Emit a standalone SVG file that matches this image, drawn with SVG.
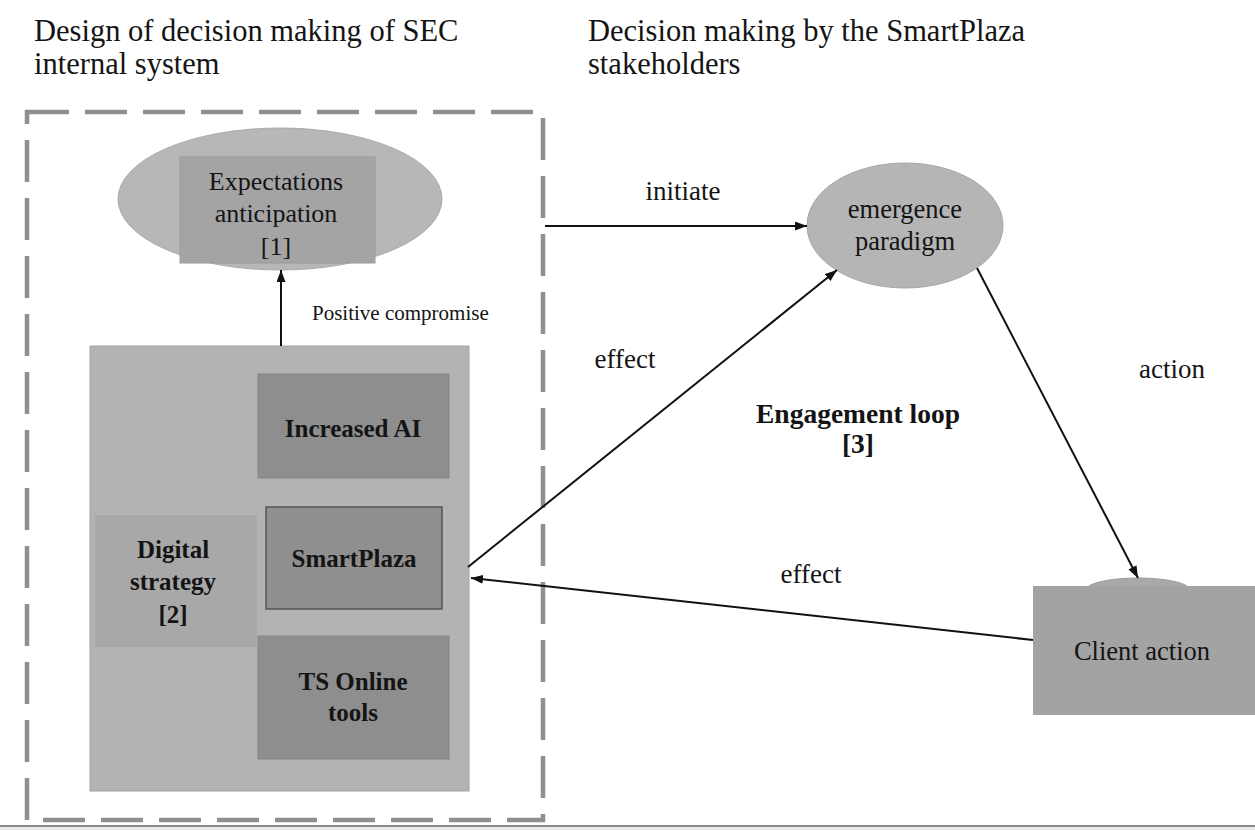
<svg xmlns="http://www.w3.org/2000/svg" width="1255" height="830" viewBox="0 0 1255 830">
<defs>
<marker id="ah" markerWidth="13" markerHeight="10" refX="12" refY="4.5" orient="auto" markerUnits="userSpaceOnUse">
<path d="M0,0 L12,4.5 L0,9 z" fill="#111"/>
</marker>
<style>
text{font-family:"Liberation Serif","Times New Roman",serif;fill:#141414}
.title{font-size:30.5px}
.lbl{font-size:27px}
.nt{font-size:26px;text-anchor:middle}
.bt{font-size:25px;font-weight:bold;text-anchor:middle}
.edge{stroke:#111;stroke-width:2;fill:none;marker-end:url(#ah)}
.dark{fill:#8e8e8e;stroke:#858585;stroke-width:1}
</style>
</defs>
<rect width="1255" height="830" fill="#fff"/>
<g id="titles">
<text class="title" x="34" y="41">Design of decision making of SEC</text>
<text class="title" x="34" y="74">internal system</text>
<text class="title" x="588" y="41">Decision making by the SmartPlaza</text>
<text class="title" x="588" y="74">stakeholders</text>
</g>
<g id="boundary">
<rect x="27" y="112" width="516" height="708" fill="none" stroke="#8f8f8f" stroke-width="4.5" stroke-dasharray="42 16"/>
<rect x="0" y="827" width="1255" height="3" fill="#ececec"/>
<line x1="0" y1="826" x2="1255" y2="826" stroke="#8a8a8a" stroke-width="2"/>
</g>
<g id="expectations">
<ellipse cx="280" cy="199" rx="162" ry="71" fill="#b7b7b7" stroke="#aaaaaa" stroke-width="1"/>
<rect x="180" y="157" width="195" height="106" fill="#a4a4a4" stroke="#9c9c9c" stroke-width="1"/>
<text class="nt" x="276" y="190">Expectations</text>
<text class="nt" x="276" y="222">anticipation</text>
<text class="nt" x="276" y="255">[1]</text>
</g>
<g id="digital-container">
<rect x="90" y="346" width="379" height="445" fill="#b3b3b3" stroke="#a3a3a3" stroke-width="1"/>
</g>
<g id="increased-ai">
<rect class="dark" x="258" y="374" width="191" height="104"/>
<text class="bt" x="353" y="437">Increased AI</text>
</g>
<g id="digital-strategy">
<rect x="96" y="516" width="160" height="130" fill="#a8a8a8" stroke="#a2a2a2" stroke-width="1"/>
<text class="bt" x="173" y="558">Digital</text>
<text class="bt" x="173" y="590">strategy</text>
<text class="bt" x="173" y="623">[2]</text>
</g>
<g id="smartplaza">
<rect x="266" y="507" width="176" height="102" fill="#8f8f8f" stroke="#555" stroke-width="1.5"/>
<text class="bt" x="354" y="567">SmartPlaza</text>
</g>
<g id="ts-online">
<rect class="dark" x="258" y="636" width="191" height="123"/>
<text class="bt" x="353" y="690">TS Online</text>
<text class="bt" x="353" y="721">tools</text>
</g>
<g id="emergence">
<ellipse cx="905" cy="225.5" rx="98" ry="62.5" fill="#b5b5b5" stroke="#a6a6a6" stroke-width="1"/>
<text class="nt" x="905" y="218" style="font-size:26.5px">emergence</text>
<text class="nt" x="905" y="250" style="font-size:26.5px">paradigm</text>
</g>
<g id="client-action">
<ellipse cx="1138" cy="590" rx="52" ry="12" fill="#a9a9a9" stroke="#9a9a9a" stroke-width="1"/>
<rect x="1033" y="586" width="223" height="129" fill="#a3a3a3"/>
<text class="nt" x="1142" y="660" style="font-size:26.5px">Client action</text>
</g>
<g id="connectors">
<line class="edge" x1="281" y1="346" x2="281" y2="270"/>
<line class="edge" x1="545" y1="226" x2="807" y2="226"/>
<line class="edge" x1="468" y1="567" x2="837" y2="270"/>
<line class="edge" x1="977" y1="268" x2="1138" y2="578"/>
<line class="edge" x1="1033" y1="640" x2="471" y2="578"/>
</g>
<g id="labels">
<text x="312" y="320" style="font-size:21px">Positive compromise</text>
<text class="lbl" x="683" y="200" text-anchor="middle">initiate</text>
<text class="lbl" x="625" y="368" text-anchor="middle">effect</text>
<text x="858" y="423" text-anchor="middle" style="font-size:27.5px;font-weight:bold">Engagement loop</text>
<text x="858" y="453" text-anchor="middle" style="font-size:27.5px;font-weight:bold">[3]</text>
<text class="lbl" x="1172" y="378" text-anchor="middle">action</text>
<text class="lbl" x="811" y="583" text-anchor="middle">effect</text>
</g>
</svg>
